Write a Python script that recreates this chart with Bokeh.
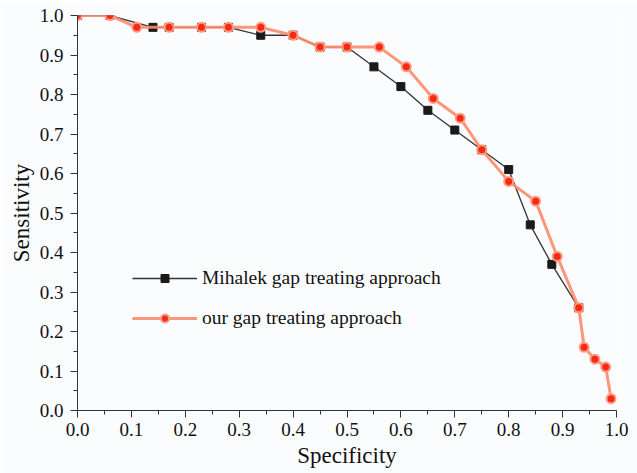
from bokeh.plotting import figure
from bokeh.models import (Range1d, FixedTicker, NumeralTickFormatter, Legend, LegendItem,
                          ColumnDataSource, CDSView, IndexFilter)
from bokeh.embed import file_html
from bokeh.resources import INLINE

# Mihalek gap treating approach (black squares)
mih_spec = [0.0, 0.06, 0.14, 0.17, 0.23, 0.28, 0.34, 0.40, 0.45, 0.50, 0.55, 0.60, 0.65, 0.70, 0.75, 0.80, 0.84, 0.88, 0.93]
mih_sens = [1.0, 1.0, 0.97, 0.97, 0.97, 0.97, 0.95, 0.95, 0.92, 0.92, 0.87, 0.82, 0.76, 0.71, 0.66, 0.61, 0.47, 0.37, 0.26]

# our gap treating approach (red/orange circles)
our_spec = [0.0, 0.06, 0.11, 0.17, 0.23, 0.28, 0.34, 0.40, 0.45, 0.50, 0.56, 0.61, 0.66, 0.71, 0.75, 0.80, 0.85, 0.89, 0.93, 0.94, 0.96, 0.98, 0.99]
our_sens = [1.0, 1.0, 0.97, 0.97, 0.97, 0.97, 0.97, 0.95, 0.92, 0.92, 0.92, 0.87, 0.79, 0.74, 0.66, 0.58, 0.53, 0.39, 0.26, 0.16, 0.13, 0.11, 0.03]

major_ticks = [0.0, 0.1, 0.2, 0.3, 0.4, 0.5, 0.6, 0.7, 0.8, 0.9, 1.0]
minor_ticks = [0.05, 0.15, 0.25, 0.35, 0.45, 0.55, 0.65, 0.75, 0.85, 0.95]

FONT = "Liberation Serif"
BG = "#fbfcfe"

p = figure(width=637, height=473, output_backend="svg", toolbar_location=None,
           x_range=Range1d(0, 1), y_range=Range1d(0, 1),
           min_border_left=77, min_border_right=21, min_border_top=15, min_border_bottom=63)
p.background_fill_color = BG
p.border_fill_color = BG
p.outline_line_color = None
p.xgrid.visible = False
p.ygrid.visible = False

for ax in (p.xaxis[0], p.yaxis[0]):
    ax.ticker = FixedTicker(ticks=major_ticks, minor_ticks=minor_ticks)
    ax.formatter = NumeralTickFormatter(format="0.0")
    ax.major_tick_in = 0
    ax.major_tick_out = 7
    ax.minor_tick_in = 0
    ax.minor_tick_out = 4
    ax.axis_line_color = "#333333"
    ax.major_tick_line_color = "#333333"
    ax.minor_tick_line_color = "#333333"
    ax.major_label_text_font = FONT
    ax.major_label_text_font_size = "19px"
    ax.major_label_text_color = "#111111"
    ax.axis_label_text_font = FONT
    ax.axis_label_text_font_size = "23px"
    ax.axis_label_text_font_style = "normal"
    ax.axis_label_text_color = "#111111"

p.xaxis.major_label_standoff = 5
p.yaxis.major_label_standoff = 7
p.xaxis.axis_label = "Specificity"
p.yaxis.axis_label = "Sensitivity"
p.xaxis.axis_label_standoff = 4
p.yaxis.axis_label_standoff = 3

mih_src = ColumnDataSource(data=dict(x=mih_spec, y=mih_sens))
our_src = ColumnDataSource(data=dict(x=our_spec, y=our_sens))

ml = p.line("x", "y", source=mih_src, line_color="#333333", line_width=1.3)
# legend-only gap behind the marker sample (filtered out of the plot)
gap1 = p.scatter("x", "y", source=mih_src, view=CDSView(filter=IndexFilter(indices=[])),
                 marker="square", size=22, fill_color=BG, line_color=None)
ms = p.scatter("x", "y", source=mih_src, marker="square", size=8, fill_color="#1a1a1a", line_color="#1a1a1a")

ol = p.line("x", "y", source=our_src, line_color="#ff8a6a", line_width=3, line_alpha=0.9)
gap2 = p.scatter("x", "y", source=our_src, view=CDSView(filter=IndexFilter(indices=[])),
                 marker="square", size=22, fill_color=BG, line_color=None)
os_ = p.scatter("x", "y", source=our_src, marker="circle", size=9, fill_color="#f42a14",
                line_color="#ff9a80", line_width=2)

legend = Legend(items=[
    LegendItem(label="Mihalek gap treating approach", renderers=[ml, gap1, ms]),
    LegendItem(label="our gap treating approach", renderers=[ol, gap2, os_]),
], location=(55, 81))
legend.glyph_width = 65
legend.glyph_height = 20
legend.label_height = 20
legend.label_standoff = 5
legend.spacing = 18
legend.padding = 0
legend.margin = 0
legend.border_line_color = None
legend.background_fill_alpha = 0
legend.label_text_font = FONT
legend.label_text_font_size = "19.5px"
legend.label_text_color = "#111111"
p.add_layout(legend, "center")

open("out.html", "w").write(file_html(p, INLINE))
